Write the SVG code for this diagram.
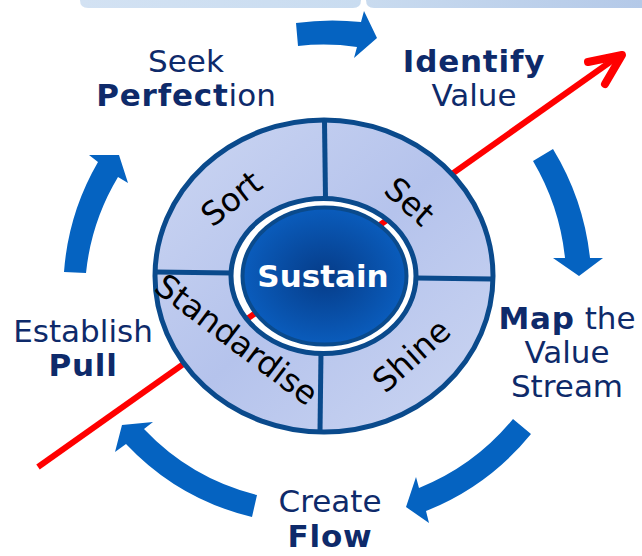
<svg xmlns="http://www.w3.org/2000/svg" width="642" height="556" viewBox="0 0 642 556">
<defs>
<style>
.lbl{font-family:"DejaVu Sans","Verdana",sans-serif;font-size:31px;fill:#0e2a6a;text-anchor:middle}
.b{font-weight:bold;letter-spacing:0.8px}
.seg{font-family:"DejaVu Sans","Verdana",sans-serif;font-size:32.5px;fill:#000;text-anchor:middle}
.arr{fill:#0563c1}
.div{stroke:#0a4a8c;stroke-width:5;fill:none}
</style>
<linearGradient id="barL" x1="0" y1="0" x2="1" y2="0"><stop offset="0" stop-color="#d3e2f3"/><stop offset="1" stop-color="#c9dcf0"/></linearGradient>
<linearGradient id="barR" x1="0" y1="0" x2="1" y2="0"><stop offset="0" stop-color="#c9dbef"/><stop offset="1" stop-color="#b4c9e8"/></linearGradient>
<linearGradient id="segG" x1="0" y1="0" x2="1" y2="1"><stop offset="0" stop-color="#ccd6f2"/><stop offset="0.5" stop-color="#b5c3ec"/><stop offset="1" stop-color="#ccd6f2"/></linearGradient>
<radialGradient id="coreG" cx="0.5" cy="0.5" r="0.5"><stop offset="0" stop-color="#063c88"/><stop offset="1" stop-color="#0a5cbc"/></radialGradient>
</defs>
<g id="topbar">
<path d="M80,-10 H361 V0 Q361,8 353,8 H88 Q80,8 80,0 Z" fill="url(#barL)"/>
<path d="M366,-10 H642 V8 H374 Q366,8 366,0 Z" fill="url(#barR)"/>
</g>
<g id="connectors">
<line x1="38" y1="467" x2="620" y2="55" stroke="#ff0000" stroke-width="6"/>
<polyline points="588,62 622,55 605,84" fill="none" stroke="#ff0000" stroke-width="8" stroke-linecap="round" stroke-linejoin="round"/>
<path class="arr" d="M298,46 L296,23 A255,255 0 0 1 361,22 L364,11 L377,38 L354,58 L357,47 A231,231 0 0 0 298,46 Z"/>
<path class="arr" d="M533,161 L553,149 A264,264 0 0 1 590,258 L603,258 L579,276 L553,258 L565,258 A240,240 0 0 0 533,161 Z"/>
<path class="arr" d="M513,419 L531,434 A259,259 0 0 1 426,511 L429,523 L406,507 L416,477 L419,488 A235,235 0 0 0 513,419 Z"/>
<path class="arr" d="M257,495 L252,517 A255,255 0 0 1 126,444 L115,452 L122,425 L153,422 L144,429 A233,233 0 0 0 257,495 Z"/>
<path class="arr" d="M86,273 L64,272 A256,256 0 0 1 98,162 L89,155 L119,155 L128,183 L118,177 A233,233 0 0 0 86,273 Z"/>
</g>
<g id="wheel">
<path d="M155,276 A169,156 0 1 0 493,276 A169,156 0 1 0 155,276 Z M231,276 A92.5,77.5 0 1 1 416,276 A92.5,77.5 0 1 1 231,276 Z" fill="url(#segG)" fill-rule="evenodd" stroke="#0a4a8c" stroke-width="5"/>
<line class="div" x1="324.5" y1="121" x2="325.5" y2="199"/>
<line class="div" x1="321" y1="352" x2="320" y2="431"/>
<line class="div" x1="156" y1="272" x2="232" y2="273"/>
<line class="div" x1="416" y1="278" x2="492" y2="279"/>
</g>
<g id="sort"><text class="seg" transform="translate(231,198) rotate(-38)" y="12">Sort</text></g>
<g id="set"><text class="seg" transform="translate(410,201) rotate(42)" y="12">Set</text></g>
<g id="standardise"><text class="seg" transform="translate(237,339) rotate(37)" y="12">Standardise</text></g>
<g id="shine"><text class="seg" transform="translate(411,355) rotate(-42)" y="12">Shine</text></g>
<g id="sustain">
<ellipse cx="324.5" cy="276" rx="82" ry="68.5" fill="url(#coreG)" stroke="#0a4a8c" stroke-width="4"/>
<text x="323" y="287" style="font-family:'DejaVu Sans',Verdana,sans-serif;font-size:31px;font-weight:bold;fill:#fff;text-anchor:middle">Sustain</text>
</g>
<g id="seek-perfection">
<text class="lbl" x="186" y="72">Seek</text>
<text class="lbl" x="186" y="106"><tspan class="b">Perfect</tspan>ion</text>
</g>
<g id="identify-value">
<text class="lbl b" x="474" y="72">Identify</text>
<text class="lbl" x="474" y="106">Value</text>
</g>
<g id="map-value-stream">
<text class="lbl" x="567" y="329"><tspan class="b">Map</tspan> the</text>
<text class="lbl" x="567" y="363">Value</text>
<text class="lbl" x="567" y="397">Stream</text>
</g>
<g id="create-flow">
<text class="lbl" x="330" y="512">Create</text>
<text class="lbl b" x="330" y="547">Flow</text>
</g>
<g id="establish-pull">
<text class="lbl" x="83" y="342">Establish</text>
<text class="lbl b" x="83" y="376">Pull</text>
</g>
</svg>
